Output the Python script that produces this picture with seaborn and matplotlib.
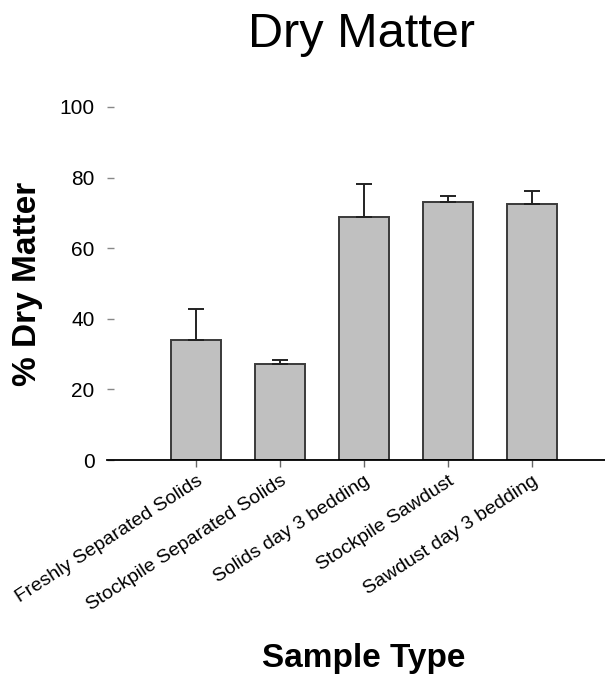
import matplotlib
matplotlib.use("Agg")
import matplotlib.pyplot as plt
import seaborn as sns
import pandas as pd
import numpy as np

# Dry matter content by sample type (mean and upper standard error)
categories = [
    "Freshly Separated Solids",
    "Stockpile Separated Solids",
    "Solids day 3 bedding",
    "Stockpile Sawdust",
    "Sawdust day 3 bedding",
]
dry_matter = [34.0, 27.1, 68.8, 73.0, 72.4]
error_upper = [8.9, 1.1, 9.3, 1.9, 3.9]
y_ticks = [0, 20, 40, 60, 80, 100]

sns.set_theme(style="white")
plt.rcParams["font.family"] = ["Liberation Sans", "DejaVu Sans"]
plt.rcParams["text.color"] = "black"
plt.rcParams["xtick.color"] = "black"
plt.rcParams["ytick.color"] = "black"

df = pd.DataFrame({"Sample Type": categories, "Dry Matter": dry_matter})

fig = plt.figure(figsize=(6.05, 6.81), dpi=100)
ax = fig.add_axes([107 / 605, 1 - 460 / 681, 1 - 107 / 605, (460 - 107) / 681])

sns.barplot(data=df, x="Sample Type", y="Dry Matter", color="#c0c0c0",
            width=0.6, edgecolor="#3a3a3a", linewidth=1.4, saturation=1,
            errorbar=None, ax=ax)

xpos = np.arange(len(categories))
ax.errorbar(xpos, dry_matter, yerr=[np.zeros(len(categories)), error_upper],
            fmt="none", ecolor="#222222", elinewidth=1.4, capsize=6,
            capthick=1.4, zorder=1)

ax.set_xlim(-1.06, 4.87)
ax.set_ylim(0, 100)
ax.set_yticks(y_ticks)
ax.set_yticklabels([str(v) for v in y_ticks], fontsize=15, color="black")
ax.set_xticks(xpos)
ax.set_xticklabels(categories, rotation=33, ha="right",
                   rotation_mode="anchor", fontsize=14, color="black")

for side in ["top", "right", "left"]:
    ax.spines[side].set_visible(False)
ax.spines["bottom"].set_color("black")
ax.spines["bottom"].set_linewidth(1.3)

ax.tick_params(axis="y", direction="in", length=5, width=1, color="#888888",
               pad=9, left=True)
ax.tick_params(axis="x", direction="out", length=5, width=1, color="#666666",
               pad=4, bottom=True)

ax.set_xlabel("")
ax.set_ylabel("")

fig.text(361 / 605, 1 - 47 / 681, "Dry Matter", fontsize=35, color="black",
         ha="center", va="baseline")
fig.text(28 / 605, 1 - 284 / 681, "% Dry Matter", fontsize=24, color="black",
         fontweight="bold", rotation=90, ha="center", va="center")
fig.text(364 / 605, 1 - 667 / 681, "Sample Type", fontsize=24, color="black",
         fontweight="bold", ha="center", va="baseline")

fig.savefig("out.png", dpi=100)
